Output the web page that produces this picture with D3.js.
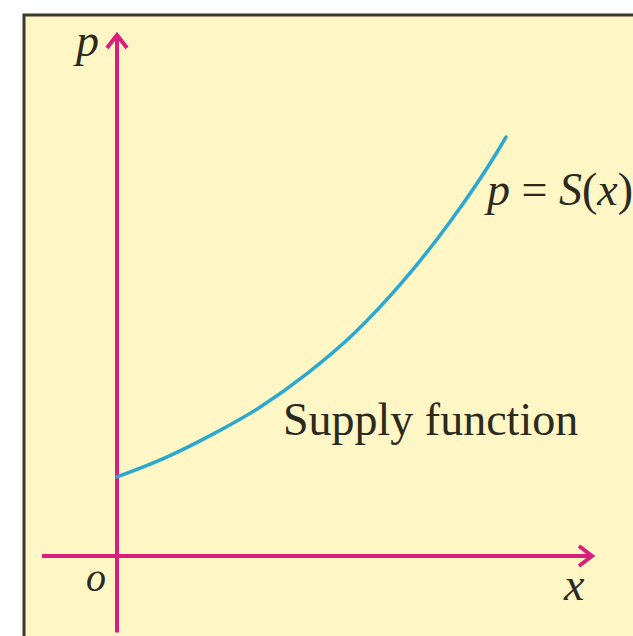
<!DOCTYPE html>
<html><head><meta charset="utf-8">
<script src="https://cdn.jsdelivr.net/npm/d3@7"></script>
<style>html,body{margin:0;padding:0;background:#fff;}svg{display:block;}</style>
</head><body>
<script>
// Supply curve readings (data units)
const xValues = [0, 1, 2, 3, 4, 5, 6, 7, 8, 8.19];
const pValues = [1.52, 1.88, 2.33, 2.85, 3.50, 4.28, 5.25, 6.40, 7.75, 8.04];
const axisLabels = ["p", "x", "o"];
const noteLabel = "Supply function";

const W = 633, H = 636;
const svg = d3.select("body").append("svg").attr("width", W).attr("height", H);

// panel
svg.append("rect").attr("x", 24).attr("y", 15).attr("width", W).attr("height", H)
  .attr("fill", "#fff6c6");
svg.append("path").attr("d", `M24,${H} V15 H${W}`).attr("fill", "none")
  .attr("stroke", "#3b3a2c").attr("stroke-width", 3);

const x = d3.scaleLinear().domain([0, 10]).range([117, 592]);
const y = d3.scaleLinear().domain([0, 10]).range([556, 35]);

const axisColor = "#d81f7c";
// x axis
svg.append("line").attr("x1", x(-1.58)).attr("x2", x(10)).attr("y1", y(0)).attr("y2", y(0))
  .attr("stroke", axisColor).attr("stroke-width", 4);
svg.append("path").attr("d", `M${x(10)-13},${y(0)-10} L${x(10)},${y(0)} L${x(10)-13},${y(0)+10}`)
  .attr("fill", "none").attr("stroke", axisColor).attr("stroke-width", 4).attr("stroke-linejoin", "miter");
// y axis
svg.append("line").attr("x1", x(0)).attr("x2", x(0)).attr("y1", y(-1.47)).attr("y2", y(10))
  .attr("stroke", axisColor).attr("stroke-width", 4);
svg.append("path").attr("d", `M${x(0)-10},${y(10)+13} L${x(0)},${y(10)} L${x(0)+10},${y(10)+13}`)
  .attr("fill", "none").attr("stroke", axisColor).attr("stroke-width", 4).attr("stroke-linejoin", "miter");

// curve
const pts = xValues.map((v, i) => [v, pValues[i]]);
const line = d3.line().x(d => x(d[0])).y(d => y(d[1])).curve(d3.curveMonotoneX);
svg.append("path").datum(pts).attr("d", line).attr("fill", "none")
  .attr("stroke", "#2aa8cf").attr("stroke-width", 3.5).attr("stroke-linecap", "round");

const font = "'Liberation Serif','Times New Roman',serif";
const txt = "#2b2a1c";
svg.append("text").attr("x", 76).attr("y", 56).text(axisLabels[0])
  .attr("font-family", font).attr("font-style", "italic").attr("font-size", 46).attr("fill", txt);
svg.append("text").attr("x", 564).attr("y", 600).text(axisLabels[1])
  .attr("font-family", font).attr("font-style", "italic").attr("font-size", 46).attr("fill", txt);
svg.append("text").attr("x", 86).attr("y", 591).text(axisLabels[2])
  .attr("font-family", font).attr("font-style", "italic").attr("font-size", 40).attr("fill", txt);

// p = S(x)
const t = svg.append("text").attr("x", 487).attr("y", 205)
  .attr("font-family", font).attr("font-size", 46).attr("fill", txt);
t.append("tspan").attr("font-style", "italic").text("p");
t.append("tspan").text(" = ");
t.append("tspan").attr("font-style", "italic").text("S");
t.append("tspan").text("(");
t.append("tspan").attr("font-style", "italic").text("x");
t.append("tspan").text(")");

svg.append("text").attr("x", 283).attr("y", 435).text(noteLabel)
  .attr("font-family", font).attr("font-size", 46).attr("fill", txt);
</script>
</body></html>
